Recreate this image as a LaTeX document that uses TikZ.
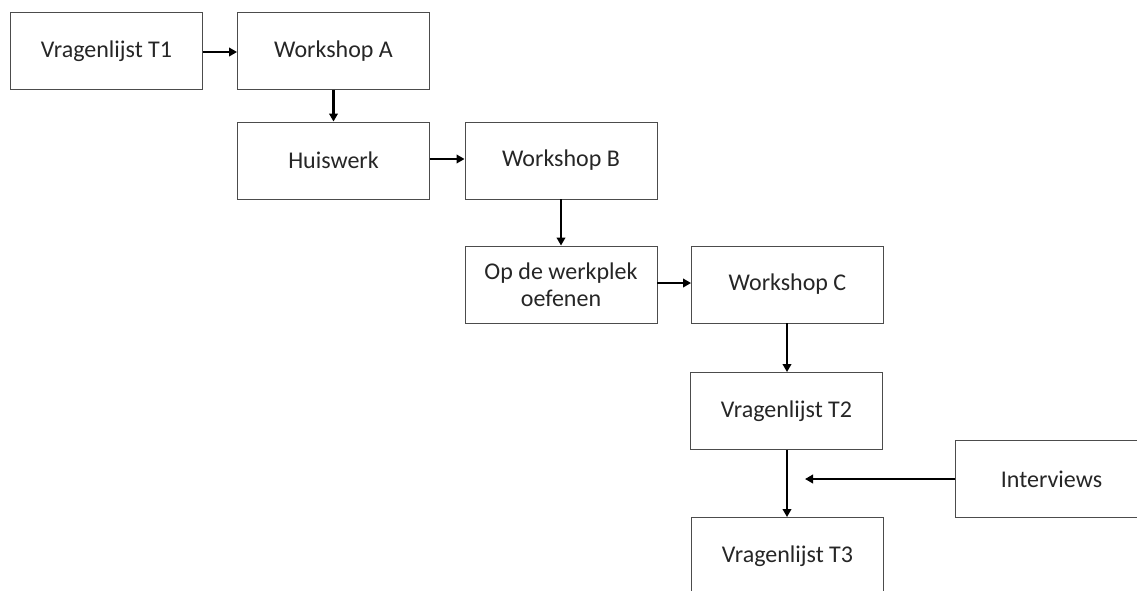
\documentclass[tikz,border=0pt]{standalone}
\usepackage{fontspec}
\setmainfont{Carlito}
\usetikzlibrary{arrows.meta}
\begin{document}
\begin{tikzpicture}[x=1pt,y=-1pt,
  box/.style={draw=black!70,line width=0.9pt,minimum width=192pt,minimum height=77pt,inner sep=0pt,align=center,font=\fontsize{24}{27}\selectfont,text=black!85},
  arr/.style={line width=2.5pt,-{Triangle[length=8pt,width=8.5pt]}}]
\useasboundingbox (0,0) rectangle (1137,590);
\clip (0,0) rectangle (1137,590);
\fill[white] (0,0) rectangle (1137,590);
\node[box] (t1) at (106.5,51) {Vragenlijst T1};
\node[box] (wa) at (333.5,51) {Workshop A};
\node[box] (hw) at (333.5,160.5) {Huiswerk};
\node[box] (wb) at (561,160.5) {Workshop B};
\node[box] (op) at (561,284.5) {Op de werkplek\\oefenen};
\node[box] (wc) at (787.5,284.5) {Workshop C};
\node[box] (t2) at (786.5,411) {Vragenlijst T2};
\node[box] (t3) at (787.5,556) {Vragenlijst T3};
\node[box] (iv) at (1051.5,479) {Interviews};
\coordinate (ij) at (805,479);
\draw[arr] (t1.east |- 0,52) -- (wa.west |- 0,52);
\draw[arr] (wa.south) -- (hw.north);
\draw[arr] (hw.east |- 0,159) -- (wb.west |- 0,159);
\draw[arr] (wb.south) -- (op.north);
\draw[arr] (op.east |- 0,283) -- (wc.west |- 0,283);
\draw[arr] (wc.south -| 787,0) -- (t2.north -| 787,0);
\draw[arr] (t2.south -| 787,0) -- (t3.north -| 787,0);
\draw[arr] (iv.west) -- (ij);
\end{tikzpicture}
\end{document}
